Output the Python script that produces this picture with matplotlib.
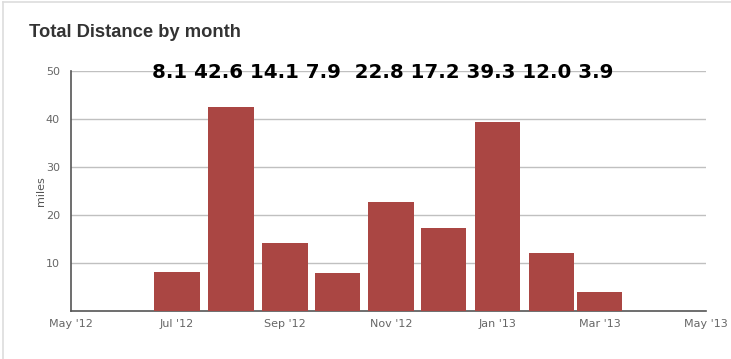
import datetime as dt
import matplotlib.pyplot as plt
from matplotlib.lines import Line2D

# monthly totals (miles)
months = ['2012-07', '2012-08', '2012-09', '2012-10', '2012-11',
          '2012-12', '2013-01', '2013-02', '2013-03']
miles = [8.1, 42.6, 14.1, 7.9, 22.8, 17.2, 39.3, 12.0, 3.9]
tick_months = ['2012-05', '2012-07', '2012-09', '2012-11', '2013-01', '2013-03', '2013-05']
tick_labels = ["May '12", "Jul '12", "Sep '12", "Nov '12", "Jan '13", "Mar '13", "May '13"]
y_ticks = [10, 20, 30, 40, 50]
value_text = '8.1 42.6 14.1 7.9  22.8 17.2 39.3 12.0 3.9'


def to_date(s):
    y, m = s.split('-')
    return dt.date(int(y), int(m), 1)


dates = [to_date(m) for m in months]
tick_dates = [to_date(m) for m in tick_months]

fig = plt.figure(figsize=(7.31, 3.59), dpi=100)
ax = fig.add_axes([0.0971, 0.1337, 0.8687, 0.6683])

ax.bar(dates, miles, width=26, color='#AA4643', zorder=3)

ax.set_xlim(tick_dates[0], tick_dates[-1])
ax.set_ylim(0, 50)
ax.set_yticks(y_ticks)
ax.set_xticks(tick_dates)
ax.set_xticklabels(tick_labels)
ax.grid(axis='y', color='#c0c0c0', linewidth=1, zorder=0)

for side in ['top', 'right']:
    ax.spines[side].set_visible(False)
for side in ['left', 'bottom']:
    ax.spines[side].set_color('#555555')
    ax.spines[side].set_linewidth(1.2)
ax.tick_params(axis='both', length=0, labelsize=8, colors='#666666', pad=6)
ax.tick_params(axis='y', pad=8)
ax.set_ylabel('miles', fontsize=8, color='#555555', labelpad=0)

# value summary typed across the top
fig.text(152 / 731, 1 - 72 / 359, value_text, ha='left', va='center',
         fontsize=14.3, fontweight='heavy', color='black', family='DejaVu Sans',
         zorder=5)

fig.text(0.040, 0.91, 'Total Distance by month', fontsize=13.2, fontweight='bold',
         color='#333333', va='center', family='Liberation Sans')

# outer frame
fig.add_artist(Line2D([0.004, 1], [0.994, 0.994], transform=fig.transFigure,
                      color='#dddddd', linewidth=1.2))
fig.add_artist(Line2D([0.004, 0.004], [0, 0.994], transform=fig.transFigure,
                      color='#dddddd', linewidth=1.2))

fig.savefig('out.png', dpi=100)
